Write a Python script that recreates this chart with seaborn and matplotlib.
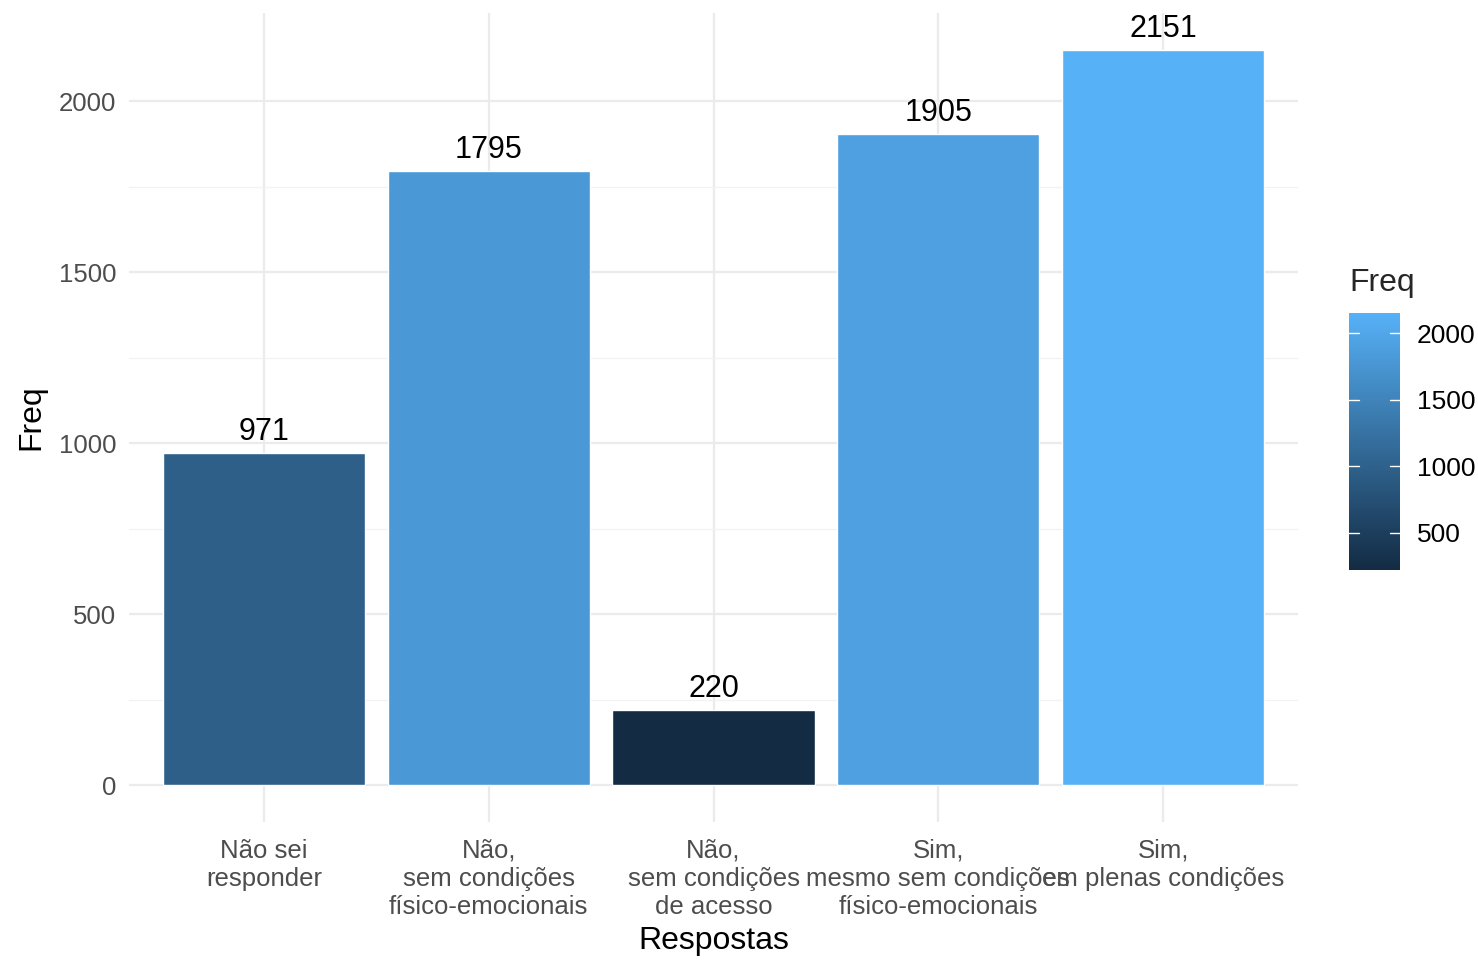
import matplotlib
matplotlib.use("Agg")
import matplotlib.pyplot as plt
import matplotlib.colors as mcolors
import numpy as np
import pandas as pd
import seaborn as sns

categorias = ["Não sei\nresponder",
              "Não,\nsem condições\nfísico-emocionais",
              "Não,\nsem condições\nde acesso",
              "Sim,\nmesmo sem condições\nfísico-emocionais",
              "Sim,\nem plenas condições"]
freq = [971, 1795, 220, 1905, 2151]
y_ticks = [0, 500, 1000, 1500, 2000]
cbar_ticks = [500, 1000, 1500, 2000]

sns.set_theme(style="white")
plt.rcParams['font.family'] = ['Liberation Sans', 'DejaVu Sans']

df = pd.DataFrame({"Respostas": categorias, "Freq": freq})
cmap = mcolors.LinearSegmentedColormap.from_list("gg", ["#132B43", "#56B1F7"])
norm = mcolors.Normalize(vmin=min(freq), vmax=max(freq))
palette = {c: cmap(norm(v)) for c, v in zip(categorias, freq)}

fig = plt.figure(figsize=(14.78, 9.6), dpi=100)
ax = fig.add_axes([129/1478, 1-822/960, (1298-129)/1478, (822-13)/960])

sns.barplot(data=df, x="Respostas", y="Freq", hue="Respostas", palette=palette,
            legend=False, width=0.9, saturation=1, ax=ax, zorder=3)

ymax = max(freq)
ax.set_ylim(-0.05*ymax, 1.05*ymax)
ax.set_xlim(-0.6, len(categorias)-0.4)
ax.set_yticks(y_ticks)
ax.set_yticks([250, 750, 1250, 1750], minor=True)
ax.grid(True, which="major", color="#EBEBEB", linewidth=1.6, zorder=0)
ax.grid(True, which="minor", axis="y", color="#F2F2F2", linewidth=0.9, zorder=0)
for s in ax.spines.values():
    s.set_visible(False)
ax.tick_params(axis="both", which="both", length=0, labelsize=18.5, labelcolor="#4D4D4D")
ax.tick_params(axis="y", pad=9)
ax.tick_params(axis="x", pad=12)
for lbl in ax.get_xticklabels():
    lbl.set_linespacing(1.22)
ax.set_xlabel("Respostas", fontsize=23, color="black", labelpad=5)
ax.set_ylabel("Freq", fontsize=23, color="black", labelpad=9)

for i, v in enumerate(freq):
    ax.text(i, v + 18, str(v), ha="center", va="bottom", fontsize=22, color="black")

cax = fig.add_axes([1349/1478, 1-570/960, 51/1478, 257/960])
sm = matplotlib.cm.ScalarMappable(norm=norm, cmap=cmap)
cb = fig.colorbar(sm, cax=cax)
cb.outline.set_visible(False)
cb.set_ticks(cbar_ticks)
cax.tick_params(length=0, labelsize=19, labelcolor="black", pad=12)
for t in cbar_ticks:
    cax.plot([0, 0.2], [t, t], color="white", lw=1, transform=cax.get_yaxis_transform())
    cax.plot([0.8, 1.0], [t, t], color="white", lw=1, transform=cax.get_yaxis_transform())
fig.text(1349/1478, 1-283/960, "Freq", fontsize=23, ha="left", va="center")

fig.savefig("out.png", dpi=100)
